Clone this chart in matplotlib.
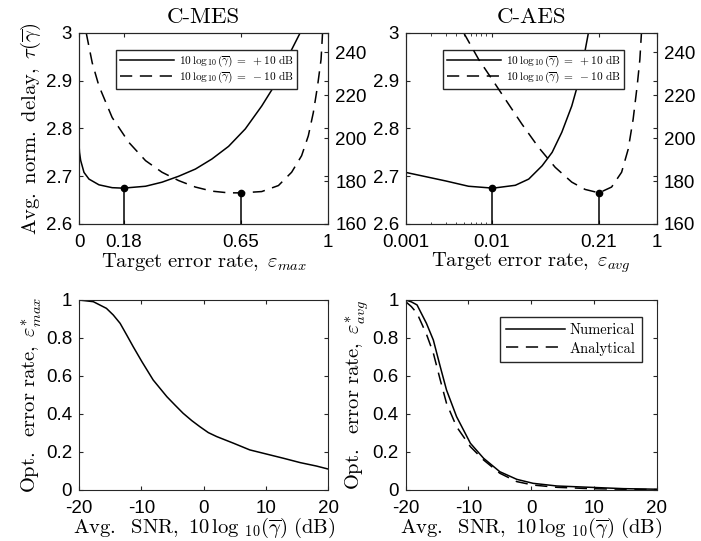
import matplotlib
matplotlib.use("Agg")
import matplotlib.pyplot as plt
from matplotlib.ticker import FixedLocator, NullLocator

# ---------------- data ----------------
# C-MES, target error rate (linear axis)
mes_x_pos10 = [0, 0.002, 0.0067, 0.02, 0.04, 0.08, 0.133, 0.177, 0.267, 0.333, 0.4, 0.467,
               0.533, 0.6, 0.667, 0.733, 0.8, 0.853, 0.887]
mes_y_pos10 = [2.767, 2.75, 2.733, 2.708, 2.694, 2.682, 2.676, 2.675, 2.679, 2.6875, 2.700,
               2.715, 2.736, 2.7625, 2.799, 2.847, 2.903, 2.965, 3.0]
mes_x_neg10 = [0.029, 0.053, 0.08, 0.133, 0.2, 0.267, 0.333, 0.4, 0.467, 0.533, 0.6, 0.651,
               0.733, 0.8, 0.853, 0.893, 0.92, 0.94, 0.957, 0.971, 0.977]
mes_y_neg10 = [249, 235.1, 224.3, 209.6, 198.0, 189.5, 184.1, 180.2, 177.2, 175.3, 174.5,
               174.5, 175.1, 177.9, 184.1, 191.8, 201.1, 211.9, 224.3, 236.6, 249]
mes_opt_x = [0.18, 0.65]
mes_opt_y = [2.675, 174.5]
mes_xticks = [0, 0.18, 0.65, 1]
mes_xticklabels = ["0", "0.18", "0.65", "1"]

# C-AES, target error rate (log axis)
aes_x_pos10 = [0.001, 0.00174, 0.00302, 0.00562, 0.01107, 0.0204, 0.0295, 0.0427, 0.0562,
               0.0733, 0.0964, 0.1156, 0.1327, 0.1524]
aes_y_pos10 = [2.708, 2.699, 2.690, 2.679, 2.675, 2.681, 2.694, 2.722, 2.75, 2.792, 2.847,
               2.896, 2.944, 3.0]
aes_x_neg10 = [0.00494, 0.00746, 0.01076, 0.01549, 0.02449, 0.03864, 0.0611, 0.0964, 0.139,
               0.204, 0.2884, 0.380, 0.456, 0.522, 0.583, 0.628, 0.656]
aes_y_neg10 = [249, 236.6, 227.4, 218.1, 206.5, 195.7, 186.4, 179.5, 176.1, 174.5, 177.2,
               184.1, 194.9, 208.8, 224.3, 236.6, 249]
aes_opt_x = [0.0107, 0.204]
aes_opt_y = [2.675, 174.5]
aes_xticks = [0.001, 0.0107, 0.204, 1]
aes_xticklabels = ["0.001", "0.01", "0.21", "1"]

left_yticks = [2.6, 2.7, 2.8, 2.9, 3.0]
left_yticklabels = ["2.6", "2.7", "2.8", "2.9", "3"]
right_yticks = [160, 180, 200, 220, 240]

# Optimal error rate vs SNR
snr_mes = [-20, -17.7, -15.6, -14.5, -13.4, -12.35, -11.3, -9.9, -8.1, -7.0, -5.9, -4.6,
           -3.3, -1.9, -0.6, 0.75, 2.1, 4.8, 7.4, 10.1, 12.8, 15.5, 18.1, 20]
opt_mes = [1.0, 0.991, 0.956, 0.921, 0.877, 0.816, 0.754, 0.675, 0.579, 0.535, 0.491, 0.447,
           0.404, 0.365, 0.333, 0.302, 0.281, 0.246, 0.211, 0.189, 0.167, 0.144, 0.126, 0.11]
snr_aes = [-20, -19.1, -18.2, -16.7, -15.6, -14.5, -13.5, -11.9, -9.7, -7.6, -5.0, -2.3,
           0.3, 4.1, 9.4, 14.7, 20]
opt_aes_num = [1.0, 0.99, 0.974, 0.877, 0.789, 0.649, 0.526, 0.386, 0.246, 0.167, 0.096,
               0.056, 0.035, 0.021, 0.014, 0.007, 0.004]
opt_aes_ana = [0.991, 0.965, 0.93, 0.82, 0.72, 0.579, 0.456, 0.333, 0.228, 0.158, 0.088,
               0.044, 0.026, 0.014, 0.007, 0.004, 0.002]
snr_ticks = [-20, -10, 0, 10, 20]
snr_ticklabels = ["-20", "-10", "0", "10", "20"]
err_ticks = [0, 0.2, 0.4, 0.6, 0.8, 1.0]
err_ticklabels = ["0", "0.2", "0.4", "0.6", "0.8", "1"]

# ---------------- style ----------------
plt.rcParams["font.family"] = ["Liberation Sans", "DejaVu Sans"]
plt.rcParams["mathtext.fontset"] = "cm"
TICK_FS = 13.5
LABEL_FS = 14.8
TITLE_FS = 16.5
AX_COLOR = "#262626"
LW = 1.1
DASH = (8, 5)

fig = plt.figure(figsize=(7.01, 5.41), dpi=100)
ax1 = fig.add_axes([0.1127, 0.5860, 0.3556, 0.3531])
ax2 = fig.add_axes([0.5788, 0.5860, 0.3581, 0.3531])
ax3 = fig.add_axes([0.1127, 0.0943, 0.3556, 0.3512])
ax4 = fig.add_axes([0.5788, 0.0943, 0.3581, 0.3512])


def style(ax, left=True, right=True, top=True, bottom=True):
    for s in ax.spines.values():
        s.set_linewidth(0.8)
        s.set_color(AX_COLOR)
    ax.tick_params(which="major", direction="in", length=3, width=0.8, color=AX_COLOR,
                   labelsize=TICK_FS, labelcolor="black", pad=5,
                   left=left, right=right, top=top, bottom=bottom)
    ax.tick_params(axis="x", which="major", pad=7)
    ax.tick_params(which="minor", direction="in", length=1.8, width=0.6, color=AX_COLOR,
                   left=False, right=False, top=top, bottom=bottom)


leg_labels = [r"$10\,\log_{10}(\overline{\gamma})\;=\;+10\ \mathrm{dB}$",
              r"$10\,\log_{10}(\overline{\gamma})\;=\;-10\ \mathrm{dB}$"]


def top_panel(ax, xp, yp, xn, yn, optx, opty, xticks, xticklabels, title, xlabel, logx):
    axr = ax.twinx()
    if logx:
        ax.set_xscale("log")
    ax.set_xlim(xticks[0], xticks[-1])
    ax.set_ylim(2.6, 3.0)
    axr.set_ylim(160, 249)
    l1, = ax.plot(xp, yp, color="black", lw=LW)
    l2, = axr.plot(xn, yn, color="black", lw=LW, ls=(0, DASH))
    ax.plot([optx[0], optx[0]], [2.6, opty[0]], color="black", lw=LW)
    ax.plot([optx[0]], [opty[0]], "o", color="black", ms=4.5)
    axr.plot([optx[1], optx[1]], [160, opty[1]], color="black", lw=LW)
    axr.plot([optx[1]], [opty[1]], "o", color="black", ms=4.5)
    ax.set_xticks(xticks)
    ax.set_xticklabels(xticklabels)
    if logx:
        ax.xaxis.set_minor_locator(FixedLocator([0.002, 0.003, 0.004, 0.005, 0.006,
                                                 0.007, 0.008, 0.009]))
    else:
        ax.xaxis.set_minor_locator(NullLocator())
    ax.set_yticks(left_yticks)
    ax.set_yticklabels(left_yticklabels)
    axr.set_yticks(right_yticks)
    style(ax, left=True, right=True, top=True, bottom=True)
    style(axr, left=False, right=True, top=False, bottom=False)
    axr.tick_params(labelright=True, labelleft=False)
    ax.set_title(title, fontsize=TITLE_FS, family="cmr10", pad=7)
    ax.set_xlabel(xlabel, fontsize=LABEL_FS, labelpad=0)
    leg = ax.legend([l1, l2], leg_labels, loc="upper left", bbox_to_anchor=(0.149, 0.911),
                    borderaxespad=0, fontsize=8.2, frameon=True, fancybox=False,
                    framealpha=1, edgecolor="#262626", handlelength=4.8,
                    borderpad=0.3, labelspacing=0.12, handletextpad=0.4)
    leg.get_frame().set_linewidth(1.0)
    return axr


top_panel(ax1, mes_x_pos10, mes_y_pos10, mes_x_neg10, mes_y_neg10, mes_opt_x, mes_opt_y,
          mes_xticks, mes_xticklabels, "C-MES",
          r"$\mathrm{Target\ error\ rate,}\ \varepsilon_{max}$", False)
ax1.set_ylabel(r"$\mathrm{Avg.\ norm.\ delay,}\ \tau(\overline{\gamma})$", fontsize=LABEL_FS,
               labelpad=2)
top_panel(ax2, aes_x_pos10, aes_y_pos10, aes_x_neg10, aes_y_neg10, aes_opt_x, aes_opt_y,
          aes_xticks, aes_xticklabels, "C-AES",
          r"$\mathrm{Target\ error\ rate,}\ \varepsilon_{avg}$", True)

# bottom panels
xlab_snr = r"$\mathrm{Avg.\ \ SNR,\ 10\,log\ }_{10}(\overline{\gamma})\ \mathrm{(dB)}$"
for ax in (ax3, ax4):
    ax.set_xlim(-20, 20)
    ax.set_ylim(0, 1)
    ax.set_xticks(snr_ticks)
    ax.set_xticklabels(snr_ticklabels)
    ax.set_yticks(err_ticks)
    ax.set_yticklabels(err_ticklabels)
    style(ax)
    ax.set_xlabel(xlab_snr, fontsize=LABEL_FS, labelpad=-1)

ax3.plot(snr_mes, opt_mes, color="black", lw=LW)
ax3.set_ylabel(r"$\mathrm{Opt.\ \ error\ rate,}\ \varepsilon^{*}_{max}$", fontsize=LABEL_FS,
               labelpad=1)

n1, = ax4.plot(snr_aes, opt_aes_num, color="black", lw=LW)
n2, = ax4.plot(snr_aes, opt_aes_ana, color="black", lw=LW, ls=(0, DASH))
ax4.set_ylabel(r"$\mathrm{Opt.\ \ error\ rate,}\ \varepsilon^{*}_{avg}$", fontsize=LABEL_FS,
               labelpad=1)
leg = ax4.legend([n1, n2], ["Numerical", "Analytical"], loc="upper left",
                 bbox_to_anchor=(0.375, 0.911), borderaxespad=0,
                 prop={"family": "cmr10", "size": 10.5}, frameon=True, fancybox=False,
                 framealpha=1, edgecolor="#262626", handlelength=4.0, borderpad=0.45,
                 labelspacing=0.3, handletextpad=0.3)
leg.get_frame().set_linewidth(1.0)

fig.savefig("out.png", dpi=100)
